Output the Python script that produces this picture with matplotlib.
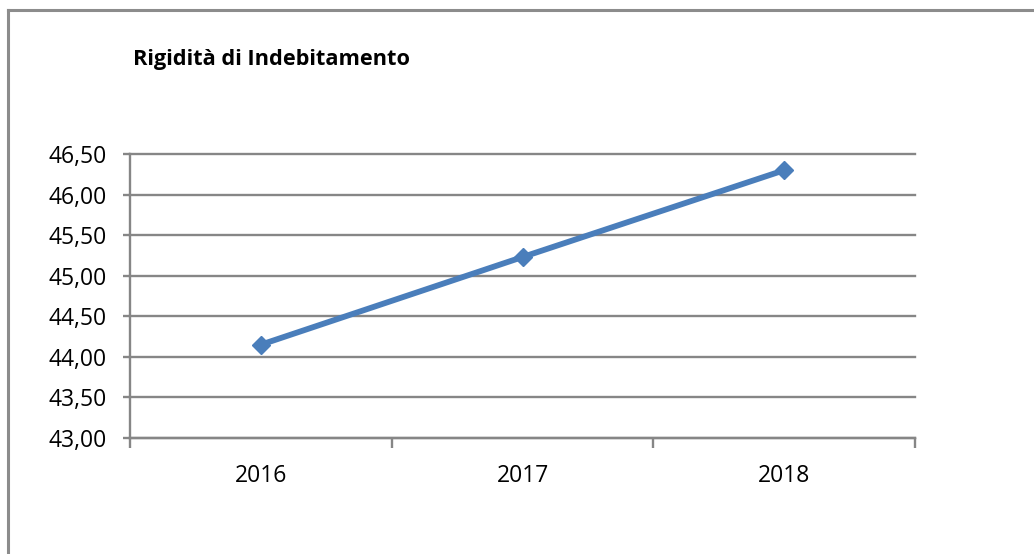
import matplotlib
matplotlib.use("Agg")
import matplotlib.pyplot as plt
from matplotlib.ticker import FuncFormatter, FixedLocator
from matplotlib.lines import Line2D

years = ["2016", "2017", "2018"]
values = [44.15, 45.23, 46.30]
title = "Rigidità di Indebitamento"

plt.rcParams['font.family'] = ['Open Sans', 'DejaVu Sans']

W, H = 1034, 554
fig = plt.figure(figsize=(W/100, H/100), dpi=100)
fig.patch.set_facecolor("white")

# outer frame (top and left visible)
fig.add_artist(Line2D([8/W, 8/W], [0, 1-10/H], transform=fig.transFigure, color="#8c8c8c", lw=2.2))
fig.add_artist(Line2D([8/W, 1], [1-10/H, 1-10/H], transform=fig.transFigure, color="#8c8c8c", lw=2.2))

ax = fig.add_axes([130/W, 1-438/H, (915-130)/W, (438-154)/H])
x = list(range(len(years)))
ax.plot(x, values, color="#4a7ebb", lw=4.2, marker="D", markersize=9.5,
        markerfacecolor="#4a7ebb", markeredgecolor="#4a7ebb", solid_capstyle="round", zorder=3)

ax.set_xlim(-0.5, len(years)-0.5)
ax.set_ylim(43.0, 46.5)
ax.set_yticks([43.0 + 0.5*i for i in range(8)])
ax.yaxis.set_major_formatter(FuncFormatter(lambda v, p: f"{v:.2f}".replace(".", ",")))
ax.grid(axis="y", color="#868686", lw=1.7, zorder=1)
for gl in ax.get_ygridlines():
    gl.set_clip_on(False)
for s in ["top", "right"]:
    ax.spines[s].set_visible(False)
ax.spines["left"].set_color("#868686")
ax.spines["left"].set_linewidth(1.7)
ax.spines["bottom"].set_color("#868686")
ax.spines["bottom"].set_linewidth(1.7)

ax.set_xticks(x)
ax.set_xticklabels(years)
ax.xaxis.set_minor_locator(FixedLocator([i - 0.5 for i in range(len(years)+1)]))
ax.tick_params(axis="x", which="major", length=0, pad=18.5, labelsize=16.5, labelcolor="#000000")
ax.tick_params(axis="x", which="minor", length=7, width=1.7, color="#868686", direction="out")
ax.tick_params(axis="y", length=5, width=1.7, color="#868686", pad=11.5, labelsize=16.5, labelcolor="#000000")

fig.text(133/W, 1-65/H, title, fontsize=15.7, fontweight="bold", ha="left", va="baseline")

fig.savefig("out.png", dpi=100, facecolor="white")
